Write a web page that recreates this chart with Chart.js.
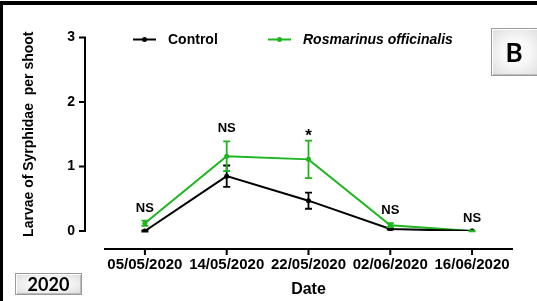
<!DOCTYPE html>
<html>
<head>
<meta charset="utf-8">
<script src="https://cdn.jsdelivr.net/npm/chart.js@4"></script>
<style>
  html, body { margin: 0; padding: 0; background: #fff; }
  #wrap { position: relative; width: 537px; height: 301px; overflow: hidden; background: #fff; }
  #chart { position: absolute; left: 0; top: 0; }
  #frame { position: absolute; left: 0; top: 1px; width: 540px; height: 310px;
           border-top: 4px solid #000; border-left: 3px solid #000; box-sizing: border-box; pointer-events: none; }
  .tag { position: absolute; box-sizing: border-box; border: 1px solid #9a9a9a;
         background: radial-gradient(ellipse at center, #f8f8f8 40%, #dcdcdc 100%);
         box-shadow: inset 1px 1px 0 #fff, inset -1px -1px 0 #bdbdbd;
         font-family: Lato, "Open Sans", sans-serif; font-weight: bold; color: #000;
         display: flex; align-items: center; justify-content: center; }
  #tagB { left: 491px; top: 28px; width: 50px; height: 48px; font-size: 26px; padding-right: 4px; }
  #tagYear { left: 15px; top: 273px; width: 67px; height: 22px; font-size: 18px; }
</style>
</head>
<body>
<div id="wrap">
  <canvas id="chart" width="537" height="301"></canvas>
  <div id="frame"></div>
  <div class="tag" id="tagB">B</div>
  <div class="tag" id="tagYear">2020</div>
</div>
<script>
// Sampling dates
const dates = ['05/05/2020', '14/05/2020', '22/05/2020', '02/06/2020', '16/06/2020'];

// Mean larvae per shoot and standard errors
const controlMean = [0, 0.85, 0.47, 0.03, 0];
const controlErr = [0.01, 0.165, 0.125, 0.01, 0];
const rosmarinusMean = [0.12, 1.16, 1.11, 0.09, 0];
const rosmarinusErr = [0.04, 0.23, 0.29, 0.03, 0.005];

// Significance labels per date
const significance = ['NS', 'NS', '*', 'NS', 'NS'];

const yTicks = [0, 1, 2, 3];

const GREEN = '#1fb51f';
const FONT = "'Liberation Sans', Arial, sans-serif";

// Prism-style offset axes, error bars, legend and significance marks
const prismPlugin = {
    id: 'prism',
    afterDatasetsDraw(chart) {
        const { ctx, chartArea, scales: { x, y } } = chart;
        const axisX = chartArea.left - 19;
        const axisY = chartArea.bottom + 18;

        ctx.save();
        ctx.strokeStyle = '#000';
        ctx.lineWidth = 2;
        ctx.lineCap = 'butt';

        // y axis
        ctx.beginPath();
        ctx.moveTo(axisX, y.getPixelForValue(3) - 1);
        ctx.lineTo(axisX, y.getPixelForValue(0) + 1);
        yTicks.forEach(v => {
            const py = y.getPixelForValue(v);
            ctx.moveTo(axisX - 6, py);
            ctx.lineTo(axisX, py);
        });
        ctx.stroke();

        // x axis
        ctx.beginPath();
        ctx.moveTo(chartArea.left, axisY);
        ctx.lineTo(chartArea.right, axisY);
        dates.forEach((d, i) => {
            const px = x.getPixelForValue(i);
            ctx.moveTo(px, axisY);
            ctx.lineTo(px, axisY + 6);
        });
        ctx.stroke();

        // error bars
        chart.data.datasets.forEach(ds => {
            ctx.strokeStyle = ds.borderColor;
            ctx.lineWidth = 1.8;
            ctx.beginPath();
            ds.data.forEach((v, i) => {
                const e = ds.errors[i];
                if (!e) return;
                const px = x.getPixelForValue(i);
                const top = y.getPixelForValue(v + e);
                const bot = y.getPixelForValue(v - e);
                ctx.moveTo(px, top);
                ctx.lineTo(px, bot);
                ctx.moveTo(px - 3.5, top);
                ctx.lineTo(px + 3.5, top);
                ctx.moveTo(px - 3.5, bot);
                ctx.lineTo(px + 3.5, bot);
            });
            ctx.stroke();
        });

        // significance marks above the highest error bar
        ctx.fillStyle = '#000';
        ctx.textAlign = 'center';
        ctx.textBaseline = 'alphabetic';
        significance.forEach((s, i) => {
            const hi = Math.max(controlMean[i] + controlErr[i], rosmarinusMean[i] + rosmarinusErr[i]);
            const py = y.getPixelForValue(hi);
            if (s === '*') {
                ctx.font = 'bold 17px ' + FONT;
                ctx.fillText(s, x.getPixelForValue(i), py - 0);
            } else {
                ctx.font = 'bold 13px ' + FONT;
                ctx.fillText(s, x.getPixelForValue(i), py - 9);
            }
        });

        // legend
        const legendPos = [133, 268];
        chart.data.datasets.forEach((ds, k) => {
            const lx = legendPos[k];
            const ly = 39.5;
            ctx.strokeStyle = ds.borderColor;
            ctx.lineWidth = 2;
            ctx.beginPath();
            ctx.moveTo(lx, ly);
            ctx.lineTo(lx + 23, ly);
            ctx.stroke();
            ctx.fillStyle = ds.borderColor;
            ctx.beginPath();
            ctx.arc(lx + 11.5, ly, 2.5, 0, Math.PI * 2);
            ctx.fill();
            ctx.fillStyle = '#000';
            ctx.textAlign = 'left';
            ctx.textBaseline = 'middle';
            ctx.font = (k === 1 ? 'italic ' : '') + 'bold 14px ' + FONT;
            ctx.fillText(ds.label, lx + 35, ly + 1);
        });
        ctx.restore();
    }
};

new Chart(document.getElementById('chart'), {
    type: 'line',
    data: {
        labels: dates,
        datasets: [
            {
                label: 'Control',
                data: controlMean,
                errors: controlErr,
                borderColor: '#000',
                backgroundColor: '#000',
                borderWidth: 2,
                pointRadius: 2.5,
                pointBorderWidth: 0,
                tension: 0
            },
            {
                label: 'Rosmarinus officinalis',
                data: rosmarinusMean,
                errors: rosmarinusErr,
                borderColor: GREEN,
                backgroundColor: GREEN,
                borderWidth: 2,
                pointRadius: 2.5,
                pointBorderWidth: 0,
                tension: 0
            }
        ]
    },
    options: {
        responsive: false,
        animation: false,
        layout: { padding: { left: 0, right: 24, top: 33, bottom: 0 } },
        plugins: {
            legend: { display: false },
            tooltip: { enabled: false }
        },
        scales: {
            x: {
                offset: true,
                grid: { display: false, drawTicks: false },
                border: { display: false },
                ticks: {
                    autoSkip: false, maxRotation: 0, minRotation: 0, padding: 25,
                    color: '#000', font: { family: FONT, size: 15, weight: 'bold' }
                },
                title: {
                    display: true, text: 'Date', color: '#000',
                    padding: { top: 0, bottom: 2 },
                    font: { family: FONT, size: 16, weight: 'bold' }
                },
                afterFit: s => { s.height = 70; }
            },
            y: {
                min: 0,
                max: 3,
                grid: { display: false, drawTicks: false },
                border: { display: false },
                ticks: {
                    stepSize: 1, padding: 29,
                    color: '#000', font: { family: FONT, size: 14, weight: 'bold' }
                },
                title: {
                    display: true, text: 'Larvae of Syrphidae  per shoot', color: '#000',
                    padding: { top: 21, bottom: 0 },
                    font: { family: FONT, size: 14, weight: 'bold' }
                },
                afterFit: s => { s.width = 104; }
            }
        }
    },
    plugins: [prismPlugin]
});
</script>
</body>
</html>
